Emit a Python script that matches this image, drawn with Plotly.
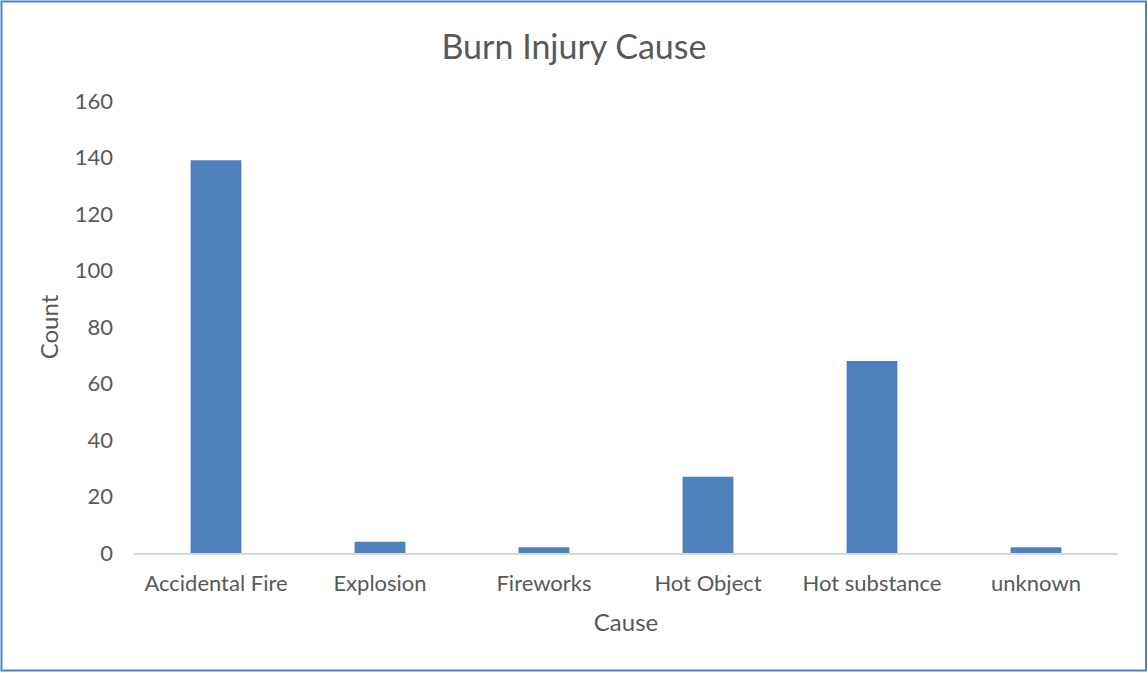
import plotly.graph_objects as go

categories = ["Accidental Fire", "Explosion", "Fireworks", "Hot Object", "Hot substance", "unknown"]
counts = [139, 4, 2, 27, 68, 2]
y_ticks = [0, 20, 40, 60, 80, 100, 120, 140, 160]

W, H = 1148, 673
L, R, T, B = 134, 30, 101, 120
pw, ph = W - L - R, H - T - B

def px_to_paper_x(px):
    return (px - L) / pw

def px_to_paper_y(py):
    return (H - B - py) / ph

font_family = "Lato, 'Open Sans', sans-serif"
grey = "#595959"

fig = go.Figure(go.Bar(x=categories, y=counts, marker=dict(color="#4F81BD", line=dict(width=0))))

fig.update_layout(
    width=W, height=H,
    margin=dict(l=L, r=R, t=T, b=B),
    paper_bgcolor="white", plot_bgcolor="white",
    bargap=0.69,
    showlegend=False,
    font=dict(family=font_family, color=grey, size=22),
    title=dict(text="Burn Injury Cause", x=0.5, xanchor="center", y=1 - 47 / H, yanchor="middle",
               font=dict(size=34, color=grey, family=font_family)),
    xaxis=dict(
        title=dict(text="Cause", font=dict(size=24, color=grey), standoff=19),
        showline=True, linecolor="#D9D9D9", linewidth=1.5,
        showgrid=False, ticks="", tickfont=dict(size=22, color=grey),
        ticklabelstandoff=10, zeroline=False,
    ),
    yaxis=dict(
        title=dict(text="Count", font=dict(size=24, color=grey), standoff=9),
        range=[0, 160], tickvals=y_ticks, showgrid=False, showline=False, zeroline=False,
        ticks="", ticklabelstandoff=20, tickfont=dict(size=22, color=grey),
    ),
    shapes=[dict(
        type="rect", xref="paper", yref="paper",
        x0=px_to_paper_x(1.5), x1=px_to_paper_x(W - 2),
        y0=px_to_paper_y(H - 2.5), y1=px_to_paper_y(1.5),
        line=dict(color="#4F81BD", width=2), fillcolor="rgba(0,0,0,0)", layer="above",
    )],
)

fig.write_html("out.html", config={"displayModeBar": False},
               post_script="document.body.style.margin='0';document.body.style.overflow='hidden';")
